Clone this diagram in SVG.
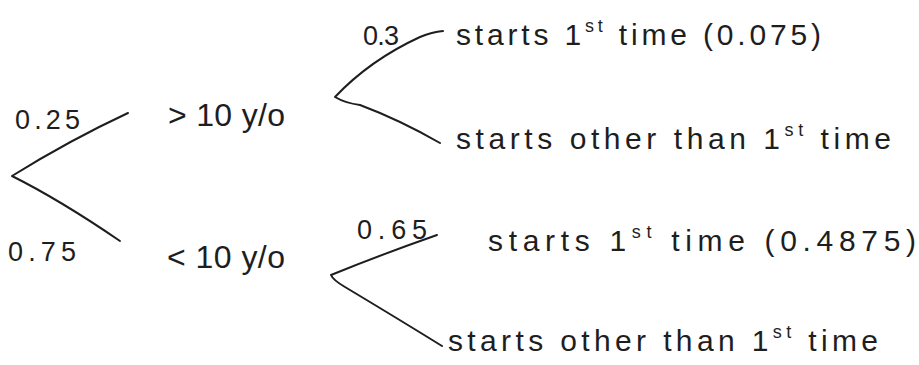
<svg xmlns="http://www.w3.org/2000/svg" width="919" height="365" viewBox="0 0 919 365">
<style>
.t{font-family:"Liberation Sans","DejaVu Sans",sans-serif;font-size:30px;fill:#1e1e1e;letter-spacing:2px}
.n{font-family:"Liberation Sans","DejaVu Sans",sans-serif;font-size:32px;fill:#1e1e1e}
.p{font-family:"Liberation Sans","DejaVu Sans",sans-serif;font-size:27px;fill:#1e1e1e;letter-spacing:2px}
.sup{font-size:18px}
.c{fill:none;stroke:#1e1e1e;stroke-width:2;stroke-linecap:round;stroke-linejoin:round}
</style>
<rect width="919" height="365" fill="#ffffff"/>
<g id="connectors">
<path class="c" d="M128,113 Q70,140 12,176 Q60,200 120,241"/>
<path class="c" d="M443,31 Q432,32 420,37 Q370,60 335,97 Q345,103 360,105 Q400,120 440,143"/>
<path class="c" d="M437,235 Q380,255 331,275 Q333,280 345,287 Q400,320 442,346"/>
</g>
<g id="p-root-up"><text class="p" x="15" y="129" textLength="67">0.25</text></g>
<g id="p-root-down"><text class="p" x="8" y="261" textLength="70">0.75</text></g>
<g id="node-gt10"><text class="n" x="168" y="126" textLength="117">&gt; 10 y/o</text></g>
<g id="node-lt10"><text class="n" x="167" y="268" textLength="118">&lt; 10 y/o</text></g>
<g id="p-gt-first"><text class="p" x="363" y="45" textLength="38">0.3</text></g>
<g id="node-gt-first"><text class="t" x="456" y="45" textLength="367">starts 1<tspan class="sup" dy="-13">st</tspan><tspan dy="13"> time (0.075)</tspan></text></g>
<g id="node-gt-other"><text class="t" x="456" y="149" textLength="437">starts other than 1<tspan class="sup" dy="-13">st</tspan><tspan dy="13"> time</tspan></text></g>
<g id="p-lt-first"><text class="p" x="357" y="239" textLength="72">0.65</text></g>
<g id="node-lt-first"><text class="t" x="488" y="251" textLength="430">starts 1<tspan class="sup" dy="-13">st</tspan><tspan dy="13"> time (0.4875)</tspan></text></g>
<g id="node-lt-other"><text class="t" x="448" y="351" textLength="432">starts other than 1<tspan class="sup" dy="-13">st</tspan><tspan dy="13"> time</tspan></text></g>
</svg>
